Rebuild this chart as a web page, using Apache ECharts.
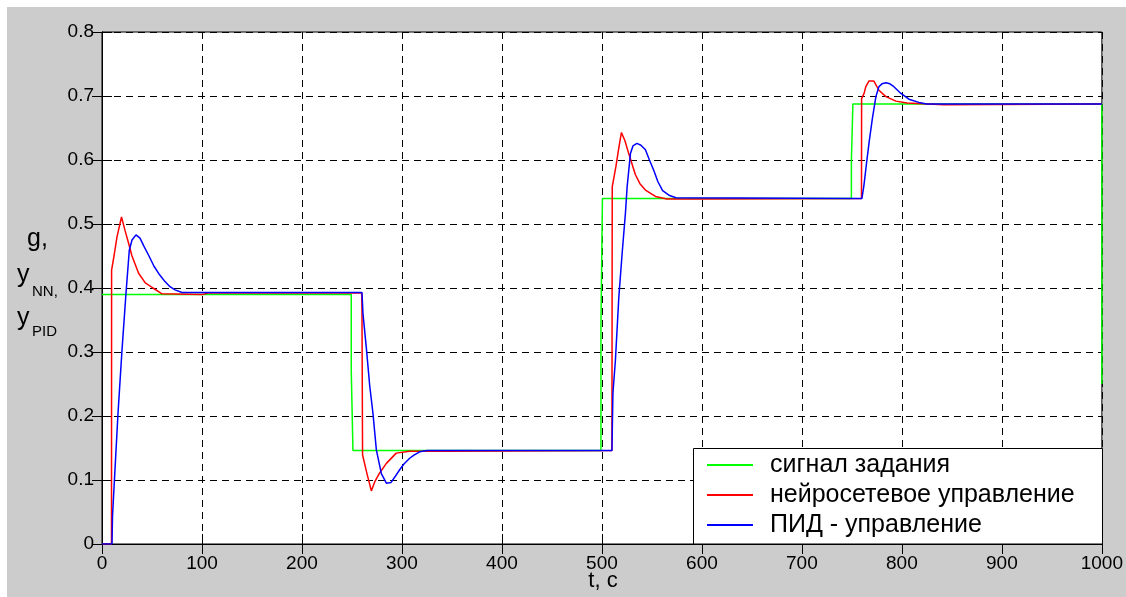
<!DOCTYPE html>
<html><head><meta charset="utf-8">
<script src="https://cdn.jsdelivr.net/npm/echarts@6/dist/echarts.min.js"></script>
<style>
html,body{margin:0;padding:0;width:1126px;height:597px;background:#fff;overflow:hidden}
#bg{position:absolute;left:7px;top:7px;width:1119px;height:590px;background:#cccccc}
#c{position:absolute;left:0;top:0;width:1126px;height:597px}
</style></head><body><div id="bg"></div><div id="c"></div>
<script>
// ---- data ----
const seriesNames = ['сигнал задания', 'нейросетевое управление', 'ПИД - управление'];
const xTicks = [0, 100, 200, 300, 400, 500, 600, 700, 800, 900, 1000];
const yTicks = ['0', '0.1', '0.2', '0.3', '0.4', '0.5', '0.6', '0.7', '0.8'];

const tSet = [0, 249.3, 249.3, 251, 251, 499, 499, 500.5, 500.5, 749.5, 749.5, 751, 751, 1000, 1000];
const vSet = [0.390, 0.390, 0.27, 0.27, 0.146, 0.146, 0.342, 0.342, 0.540, 0.540, 0.60, 0.60, 0.6875, 0.6875, 0.25];

const tNN = [0, 9.5, 9.6, 12, 15, 19.5, 23, 26.6, 30, 36.6, 43.3, 51, 60, 100, 106,
  259.7, 260, 260.6, 265, 269.4, 273, 277.7, 284.4, 294.3, 307.6, 342, 343,
  510, 510.3, 514, 517, 519.5, 523, 526.8, 533.5, 538, 543.5, 553.5, 565, 595, 596,
  759.6, 759.7, 762.2, 763.9, 767, 772, 777, 784, 794, 805, 842, 843, 1000];
const vNN = [0, 0, 0.428, 0.45, 0.48, 0.511, 0.49, 0.47, 0.45, 0.423, 0.408, 0.400, 0.391, 0.390, 0.392,
  0.392, 0.366, 0.139, 0.11, 0.083, 0.098, 0.111, 0.126, 0.142, 0.145, 0.145, 0.146,
  0.146, 0.558, 0.59, 0.62, 0.643, 0.63, 0.61, 0.577, 0.563, 0.553, 0.543, 0.539, 0.539, 0.540,
  0.540, 0.696, 0.704, 0.7145, 0.7234, 0.7234, 0.709, 0.699, 0.692, 0.689, 0.6865, 0.6875, 0.6875];

const tPID = [0, 10, 10.5, 12.6, 16, 20, 24, 27.3, 30, 34, 38, 42, 47, 52, 57, 63, 68, 73, 80,
  260, 261, 264.4, 267.7, 271, 274.4, 279.4, 284.4, 289, 293, 297.7, 302, 307.7, 312, 317.7, 325,
  510, 511, 513.5, 516.9, 520.2, 523.5, 525.2, 528.5, 531, 535, 539, 543.5, 547.5, 551.8, 556, 560.7, 567, 574,
  760, 762, 765, 767.5, 770.5, 774, 777, 780, 784, 788, 792, 799, 807, 817, 825, 1000];
const vPID = [0, 0, 0.043, 0.105, 0.204, 0.303, 0.392, 0.459, 0.475, 0.483, 0.478, 0.465, 0.45, 0.434, 0.422, 0.41, 0.402, 0.397, 0.393,
  0.393, 0.36, 0.306, 0.248, 0.204, 0.147, 0.110, 0.095, 0.096, 0.105, 0.116, 0.125, 0.134, 0.139, 0.144, 0.146,
  0.146, 0.236, 0.2875, 0.386, 0.454, 0.517, 0.558, 0.61, 0.622, 0.626, 0.623, 0.616, 0.60, 0.584, 0.566, 0.552, 0.545, 0.541,
  0.540, 0.56, 0.60, 0.631, 0.665, 0.699, 0.7145, 0.719, 0.7208, 0.719, 0.7145, 0.704, 0.695, 0.690, 0.6875, 0.6875];

const colors = ['#00ff00', '#ff0000', '#0000ff'];
const pairs = (t, v) => t.map((x, i) => [x, v[i]]);

const FONT = "'Liberation Sans', Arial, sans-serif";
const chart = echarts.init(document.getElementById('c'), null, {renderer: 'canvas'});

const tickStyle = {show: true, inside: true, length: 10, lineStyle: {color: '#000', width: 1}};
const baseX = {type: 'value', min: 0, max: 1000, interval: 100};
const baseY = {type: 'value', min: 0, max: 0.8, interval: 0.1};

const option = {
  animation: false,
  backgroundColor: 'transparent',
  color: colors,
  grid: {left: 102, right: 23, top: 32, bottom: 53, show: true, backgroundColor: '#fff', borderColor: '#000', borderWidth: 1},
  xAxis: [
    Object.assign({}, baseX, {
      position: 'bottom',
      axisLine: {show: true, lineStyle: {color: '#000', width: 1}},
      axisTick: tickStyle,
      axisLabel: {color: '#000', fontFamily: FONT, fontSize: 19, margin: 10, showMinLabel: true, showMaxLabel: true,
        formatter: v => String(xTicks[Math.round(v / 100)])},
      splitLine: {show: true, lineStyle: {color: '#000', type: [7, 5], width: 1}}
    }),
    Object.assign({}, baseX, {
      position: 'top',
      axisLine: {show: true, lineStyle: {color: '#000', width: 1}},
      axisTick: tickStyle, axisLabel: {show: false}, splitLine: {show: false}
    })
  ],
  yAxis: [
    Object.assign({}, baseY, {
      position: 'left',
      axisLine: {show: true, lineStyle: {color: '#000', width: 1}},
      axisTick: tickStyle,
      axisLabel: {color: '#000', fontFamily: FONT, fontSize: 19, margin: 8, showMinLabel: true, showMaxLabel: true,
        formatter: v => yTicks[Math.round(v * 10)]},
      splitLine: {show: true, lineStyle: {color: '#000', type: [7, 5], width: 1}}
    }),
    Object.assign({}, baseY, {
      position: 'right',
      axisLine: {show: true, lineStyle: {color: '#000', width: 1}},
      axisTick: tickStyle, axisLabel: {show: false}, splitLine: {show: false}
    })
  ],
  legend: {
    orient: 'vertical', left: 707, top: 450, padding: 0, z: 60,
    icon: 'rect', itemWidth: 46, itemHeight: 2, itemGap: 0,
    data: seriesNames,
    textStyle: {color: '#000', fontFamily: FONT, fontSize: 25, lineHeight: 30, padding: [0, 0, 0, 12]}
  },
  graphic: [
    {type: 'rect', z: 50, shape: {x: 693.5, y: 448.5, width: 409, height: 95.5},
      style: {fill: '#fff', stroke: '#000', lineWidth: 1}},
    {type: 'text', z: 50, style: {text: 'g,', x: 27, y: 239, font: '25px ' + FONT, fill: '#000', verticalAlign: 'middle'}},
    {type: 'text', z: 50, style: {text: 'y', x: 17, y: 275, font: '25px ' + FONT, fill: '#000', verticalAlign: 'middle'}},
    {type: 'text', z: 50, style: {text: 'NN,', x: 32, y: 292, font: '15px ' + FONT, fill: '#000', verticalAlign: 'middle'}},
    {type: 'text', z: 50, style: {text: 'y', x: 17, y: 318, font: '25px ' + FONT, fill: '#000', verticalAlign: 'middle'}},
    {type: 'text', z: 50, style: {text: 'PID', x: 32, y: 332, font: '15px ' + FONT, fill: '#000', verticalAlign: 'middle'}},
    {type: 'text', z: 50, style: {text: 't, c', x: 603, y: 581, font: '22px ' + FONT, fill: '#000', align: 'center', verticalAlign: 'middle'}}
  ],
  series: [
    {name: seriesNames[0], type: 'line', symbol: 'none', data: pairs(tSet, vSet), lineStyle: {width: 1.5, color: colors[0]}, itemStyle: {color: colors[0]}, z: 2},
    {name: seriesNames[1], type: 'line', symbol: 'none', data: pairs(tNN, vNN), lineStyle: {width: 1.5, color: colors[1]}, itemStyle: {color: colors[1]}, z: 3},
    {name: seriesNames[2], type: 'line', symbol: 'none', data: pairs(tPID, vPID), lineStyle: {width: 1.5, color: colors[2]}, itemStyle: {color: colors[2]}, z: 4}
  ]
};
chart.setOption(option);
</script></body></html>
